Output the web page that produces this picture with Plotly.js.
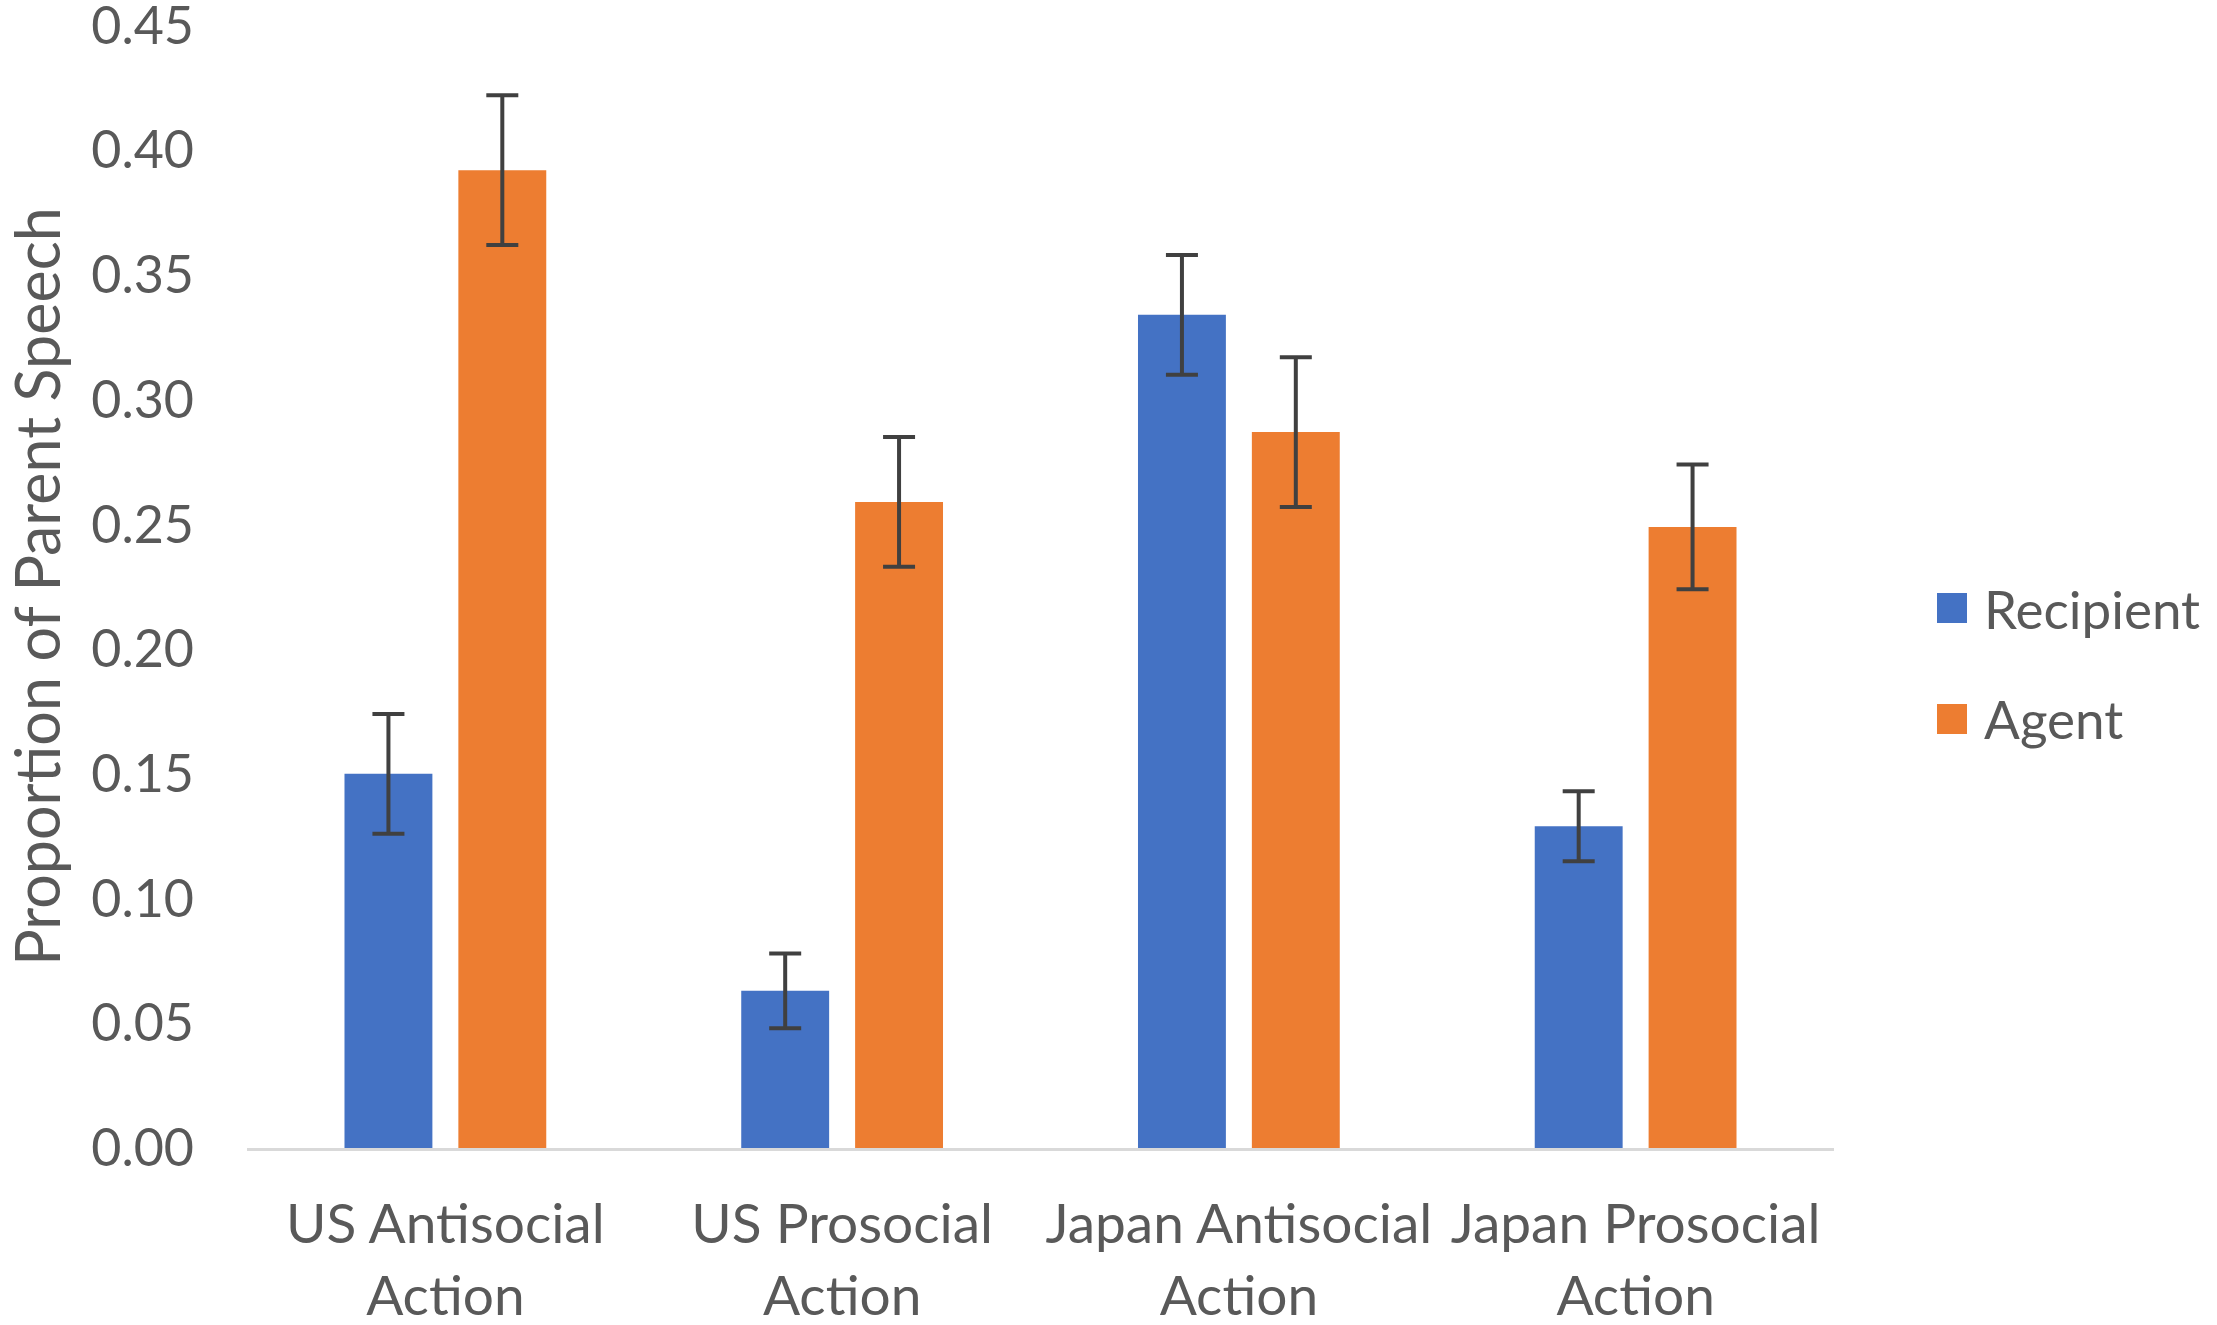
<!DOCTYPE html>
<html>
<head>
<meta charset="utf-8">
<script src="https://cdn.plot.ly/plotly-3.0.1.min.js"></script>
<style>
  html, body { margin: 0; padding: 0; background: #fff; }
  #chart { width: 2217px; height: 1325px; }
</style>
</head>
<body>
<div id="chart"></div>
<script>
// values
const categories = [
    'US Antisocial<br>Action',
    'US Prosocial<br>Action',
    'Japan Antisocial<br>Action',
    'Japan Prosocial<br>Action'
];
const seriesNames = ['Recipient', 'Agent'];
const recipientValues = [0.150, 0.063, 0.334, 0.129];
const recipientErrors = [0.024, 0.015, 0.024, 0.014];
const agentValues = [0.392, 0.259, 0.287, 0.249];
const agentErrors = [0.030, 0.026, 0.030, 0.025];
const yTicks = [0, 0.05, 0.10, 0.15, 0.20, 0.25, 0.30, 0.35, 0.40, 0.45];

const BLUE = '#4472C4';
const ORANGE = '#ED7D31';
const TEXT = '#595959';
const FONT = 'Lato, "Open Sans", sans-serif';

function barTrace(name, values, errors, color) {
    return {
        type: 'bar',
        name: name,
        x: categories,
        y: values,
        marker: { color: color, line: { width: 0 } },
        error_y: {
            type: 'data',
            array: errors,
            visible: true,
            color: '#404040',
            thickness: 4,
            width: 16
        },
        showlegend: false,
        hoverinfo: 'skip'
    };
}

const data = [
    barTrace(seriesNames[0], recipientValues, recipientErrors, BLUE),
    barTrace(seriesNames[1], agentValues, agentErrors, ORANGE)
];

// legend drawn as paper-space squares + labels (Excel-sized keys)
const W = 2217, H = 1325;
const margin = { l: 247, r: 383, t: 25, b: 177 };
const plotW = W - margin.l - margin.r;
const plotH = H - margin.t - margin.b;
const px = x => (x - margin.l) / plotW;
const py = y => (H - margin.b - y) / plotH;

const legendRows = [
    { name: seriesNames[0], color: BLUE, y: 608 },
    { name: seriesNames[1], color: ORANGE, y: 719 }
];
const shapes = legendRows.map(r => ({
    type: 'rect', xref: 'paper', yref: 'paper',
    x0: px(1937), x1: px(1967), y0: py(r.y + 15), y1: py(r.y - 15),
    fillcolor: r.color, line: { width: 0 }
}));
const annotations = legendRows.map(r => ({
    xref: 'paper', yref: 'paper',
    x: px(1982), y: py(r.y),
    xanchor: 'left', yanchor: 'middle',
    text: r.name, showarrow: false,
    font: { family: FONT, size: 53, color: TEXT }
}));

const layout = {
    width: W,
    height: H,
    margin: margin,
    paper_bgcolor: '#fff',
    plot_bgcolor: '#fff',
    barmode: 'group',
    bargap: 0.426,
    bargroupgap: 0.228,
    font: { family: FONT, color: TEXT },
    xaxis: {
        showline: true,
        linecolor: '#D9D9D9',
        linewidth: 3,
        ticks: '',
        ticklabelstandoff: 26,
        tickfont: { family: FONT, size: 55, color: TEXT },
        fixedrange: true
    },
    yaxis: {
        range: [0, 0.4502],
        tickvals: yTicks,
        tickformat: '.2f',
        ticklabeloverflow: 'allow',
        showgrid: false,
        zeroline: false,
        showline: false,
        ticks: '',
        ticklabelstandoff: 52,
        tickfont: { family: FONT, size: 52, color: TEXT },
        title: {
            text: 'Proportion of Parent Speech',
            font: { family: FONT, size: 61, color: TEXT },
            standoff: 16
        },
        fixedrange: true
    },
    shapes: shapes,
    annotations: annotations
};

Plotly.newPlot('chart', data, layout, { displayModeBar: false, staticPlot: true });
</script>
</body>
</html>
